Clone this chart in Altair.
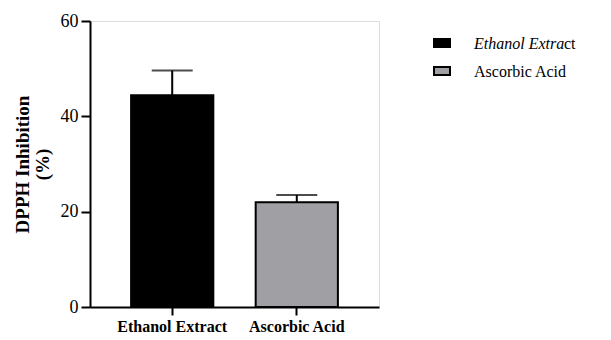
import altair as alt
import pandas as pd

categories = ["Ethanol Extract", "Ascorbic Acid"]
means = [44.4, 22.0]
errors = [5.2, 1.5]
fills = ["#000000", "#a0a0a4"]
y_ticks = [0, 20, 40, 60]

df = pd.DataFrame({
    "cat": categories,
    "mean": means,
    "top": [m + e for m, e in zip(means, errors)],
})

FONT = "Times New Roman, Liberation Serif, DejaVu Serif, serif"
LEG_FS = 16

x_enc = alt.X(
    "cat:N",
    sort=categories,
    title=None,
    scale=alt.Scale(paddingInner=0.34, paddingOuter=0.33),
    axis=alt.Axis(labelAngle=0, labelFont=FONT, labelFontWeight="bold",
                  labelFontSize=16, labelColor="black", labelPadding=3,
                  tickSize=8, tickWidth=2, tickColor="black",
                  domainWidth=2, domainColor="black", grid=False),
)

y_scale = alt.Scale(domain=[0, 60], nice=False)

bars = alt.Chart(df).mark_bar(stroke="black", strokeWidth=2).encode(
    x=x_enc,
    y=alt.Y("mean:Q", scale=y_scale,
            title=["DPPH Inhibition", "(%)"],
            axis=alt.Axis(values=y_ticks, labelFont=FONT, labelFontSize=18,
                          labelColor="black", labelPadding=3,
                          tickSize=9, tickWidth=2, tickColor="black",
                          domainWidth=2, domainColor="black", grid=False,
                          titleFont=FONT, titleFontSize=19, titleFontWeight="bold",
                          titleColor="#000000", titlePadding=8, titleLineHeight=20)),
    color=alt.Color("cat:N", scale=alt.Scale(domain=categories, range=fills), legend=None),
)

err_rule = alt.Chart(df).mark_rule(color="black", strokeWidth=2).encode(
    x=alt.X("cat:N", sort=categories),
    y=alt.Y("mean:Q", scale=y_scale),
    y2="top:Q",
)

err_cap = alt.Chart(df).mark_tick(color="black", thickness=2, size=41,
                                  orient="horizontal").encode(
    x=alt.X("cat:N", sort=categories),
    y=alt.Y("top:Q", scale=y_scale),
)

# manual legend
leg_layers = []
row_y = [22, 50]
for i, cat in enumerate(categories):
    leg_layers.append(
        alt.Chart(df).mark_rect(fill=fills[i], stroke="black", strokeWidth=2).encode(
            x=alt.value(344), x2=alt.value(360),
            y=alt.value(row_y[i] - 4), y2=alt.value(row_y[i] + 4),
        ).transform_filter(alt.datum.cat == cat)
    )

leg_text1 = alt.Chart(df).mark_text(
    text="Ethanol Extra", font=FONT, fontSize=LEG_FS, fontStyle="italic",
    align="left", baseline="middle", color="black",
).encode(x=alt.value(384), y=alt.value(row_y[0] + 1)).transform_filter(
    alt.datum.cat == categories[0])
leg_text1b = alt.Chart(df).mark_text(
    text="ct", font=FONT, fontSize=LEG_FS,
    align="left", baseline="middle", color="black",
).encode(x=alt.value(474), y=alt.value(row_y[0] + 1)).transform_filter(
    alt.datum.cat == categories[0])
leg_text2 = alt.Chart(df).mark_text(
    text=categories[1], font=FONT, fontSize=LEG_FS,
    align="left", baseline="middle", color="black",
).encode(x=alt.value(384), y=alt.value(row_y[1] + 1)).transform_filter(
    alt.datum.cat == categories[1])

chart = alt.layer(
    bars, err_rule, err_cap, *leg_layers, leg_text1, leg_text1b, leg_text2
).properties(
    width=289, height=286,
    padding={"left": 5, "top": 4, "right": 5, "bottom": 0},
).configure_view(stroke=None).configure(background="white")

chart.save("out.html", embed_options={"renderer": "svg", "actions": False})
